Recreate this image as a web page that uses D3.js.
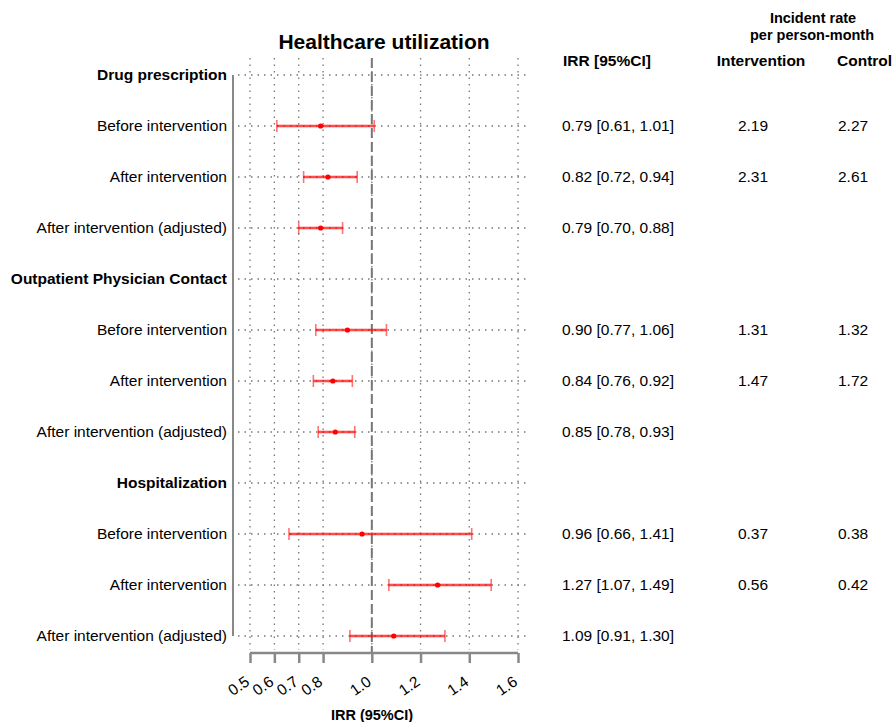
<!DOCTYPE html>
<head>
    <meta charset="utf-8" />
    <script src="https://d3js.org/d3.v7.min.js"></script>
    <style>
        body { margin: 0; background: #fff; }
        text { font-family: "Liberation Sans", Arial, sans-serif; fill: #000; }
    </style>
    <title>Healthcare utilization</title>
</head>
<body>
<script>
    // rows of the forest plot, top to bottom
    var rowLabels = ["Drug prescription", "Before intervention", "After intervention", "After intervention (adjusted)",
                     "Outpatient Physician Contact", "Before intervention", "After intervention", "After intervention (adjusted)",
                     "Hospitalization", "Before intervention", "After intervention", "After intervention (adjusted)"];
    var isHeader = [true, false, false, false, true, false, false, false, true, false, false, false];
    var irr   = [null, 0.79, 0.82, 0.79, null, 0.90, 0.84, 0.85, null, 0.96, 1.27, 1.09];
    var lower = [null, 0.61, 0.72, 0.70, null, 0.77, 0.76, 0.78, null, 0.66, 1.07, 0.91];
    var upper = [null, 1.01, 0.94, 0.88, null, 1.06, 0.92, 0.93, null, 1.41, 1.49, 1.30];
    var rateIntervention = [null, "2.19", "2.31", null, null, "1.31", "1.47", null, null, "0.37", "0.56", null];
    var rateControl      = [null, "2.27", "2.61", null, null, "1.32", "1.72", null, null, "0.38", "0.42", null];
    var xTicks = [0.5, 0.6, 0.7, 0.8, 1.0, 1.2, 1.4, 1.6];

    var width = 892, height = 722;
    var fs = 15.5;
    var svg = d3.select("body").append("svg")
        .attr("width", width)
        .attr("height", height);

    var x = d3.scaleLinear().domain([0.5, 1.6]).range([250, 518]);
    var y = d3.scaleLinear().domain([0, rowLabels.length - 1]).range([75, 636]);
    var idx = d3.range(rowLabels.length);

    // vertical dotted grid
    svg.selectAll(".vgrid").data(xTicks).join("line")
        .attr("x1", d => x(d)).attr("x2", d => x(d))
        .attr("y1", 58).attr("y2", 650)
        .attr("stroke", "#777").attr("stroke-width", 1.3)
        .attr("stroke-dasharray", "1.5,5");

    // horizontal dotted grid
    svg.selectAll(".hgrid").data(idx).join("line")
        .attr("x1", 238).attr("x2", 530)
        .attr("y1", d => y(d)).attr("y2", d => y(d))
        .attr("stroke", "#777").attr("stroke-width", 1.3)
        .attr("stroke-dasharray", "1.5,5");

    // reference line at 1
    svg.append("line")
        .attr("x1", x(1)).attr("x2", x(1))
        .attr("y1", 58).attr("y2", 652)
        .attr("stroke", "#777").attr("stroke-width", 2)
        .attr("stroke-dasharray", "10,4");

    // left axis line
    svg.append("line")
        .attr("x1", 233).attr("x2", 233)
        .attr("y1", y(0)).attr("y2", y(rowLabels.length - 1))
        .attr("stroke", "#888").attr("stroke-width", 2);

    // bottom axis
    var axis = svg.append("g").attr("transform", "translate(0,653)")
        .call(d3.axisBottom(x).tickValues(xTicks).tickSize(10).tickFormat(d3.format(".1f")));
    axis.select(".domain").attr("stroke", "#888").attr("stroke-width", 2.5).attr("d", "M" + x(0.5) + ",0H" + x(1.6));
    axis.selectAll(".tick line").attr("stroke", "#888").attr("stroke-width", 2.5);
    axis.selectAll(".tick text")
        .attr("font-size", fs).attr("fill", "#000")
        .attr("text-anchor", "end")
        .attr("dy", 0).attr("y", 0)
        .attr("transform", "translate(0,31) rotate(-35)");

    // row labels
    svg.selectAll(".rowlab").data(idx).join("text")
        .attr("x", 227).attr("y", d => y(d) + 5)
        .attr("text-anchor", "end")
        .attr("font-size", fs)
        .attr("font-weight", d => isHeader[d] ? "bold" : "normal")
        .text(d => rowLabels[d]);

    var est = idx.filter(d => irr[d] != null);

    // error bars
    var bars = svg.selectAll(".bar").data(est).join("g");
    bars.append("line")
        .attr("x1", d => x(lower[d])).attr("x2", d => x(upper[d]))
        .attr("y1", d => y(d)).attr("y2", d => y(d))
        .attr("stroke", "red").attr("stroke-opacity", 0.4).attr("stroke-width", 3);
    bars.append("line")
        .attr("x1", d => x(lower[d])).attr("x2", d => x(upper[d]))
        .attr("y1", d => y(d)).attr("y2", d => y(d))
        .attr("stroke", "red").attr("stroke-width", 1);
    bars.selectAll(".cap").data(d => [[d, lower[d]], [d, upper[d]]]).join("line")
        .attr("x1", d => x(d[1])).attr("x2", d => x(d[1]))
        .attr("y1", d => y(d[0]) - 6).attr("y2", d => y(d[0]) + 6)
        .attr("stroke", "red").attr("stroke-opacity", 0.55).attr("stroke-width", 1.6);
    bars.append("circle")
        .attr("cx", d => x(irr[d])).attr("cy", d => y(d))
        .attr("r", 2.6).attr("fill", "red");

    // title and axis label
    svg.append("text").attr("x", 384).attr("y", 49)
        .attr("text-anchor", "middle").attr("font-size", 21).attr("font-weight", "bold")
        .text("Healthcare utilization");
    svg.append("text").attr("x", 372).attr("y", 720)
        .attr("text-anchor", "middle").attr("font-size", 14.5).attr("font-weight", "bold")
        .text("IRR (95%CI)");

    // table headers
    svg.append("text").attr("x", 563).attr("y", 66).attr("font-size", fs).attr("font-weight", "bold").text("IRR [95%CI]");
    svg.append("text").attr("x", 813).attr("y", 23).attr("text-anchor", "middle").attr("font-size", 14.5).attr("font-weight", "bold").text("Incident rate");
    svg.append("text").attr("x", 812).attr("y", 40).attr("text-anchor", "middle").attr("font-size", 14.5).attr("font-weight", "bold").text("per person-month");
    svg.append("text").attr("x", 761).attr("y", 66).attr("text-anchor", "middle").attr("font-size", fs).attr("font-weight", "bold").text("Intervention");
    svg.append("text").attr("x", 837).attr("y", 66).attr("font-size", fs).attr("font-weight", "bold").text("Control");

    var f2 = d3.format(".2f");
    svg.selectAll(".irrtxt").data(est).join("text")
        .attr("x", 562).attr("y", d => y(d) + 5).attr("font-size", fs)
        .text(d => f2(irr[d]) + " [" + f2(lower[d]) + ", " + f2(upper[d]) + "]");
    svg.selectAll(".inttxt").data(idx.filter(d => rateIntervention[d])).join("text")
        .attr("x", 753).attr("y", d => y(d) + 5).attr("text-anchor", "middle").attr("font-size", fs)
        .text(d => rateIntervention[d]);
    svg.selectAll(".ctltxt").data(idx.filter(d => rateControl[d])).join("text")
        .attr("x", 838).attr("y", d => y(d) + 5).attr("font-size", fs)
        .text(d => rateControl[d]);
</script>
</body>
